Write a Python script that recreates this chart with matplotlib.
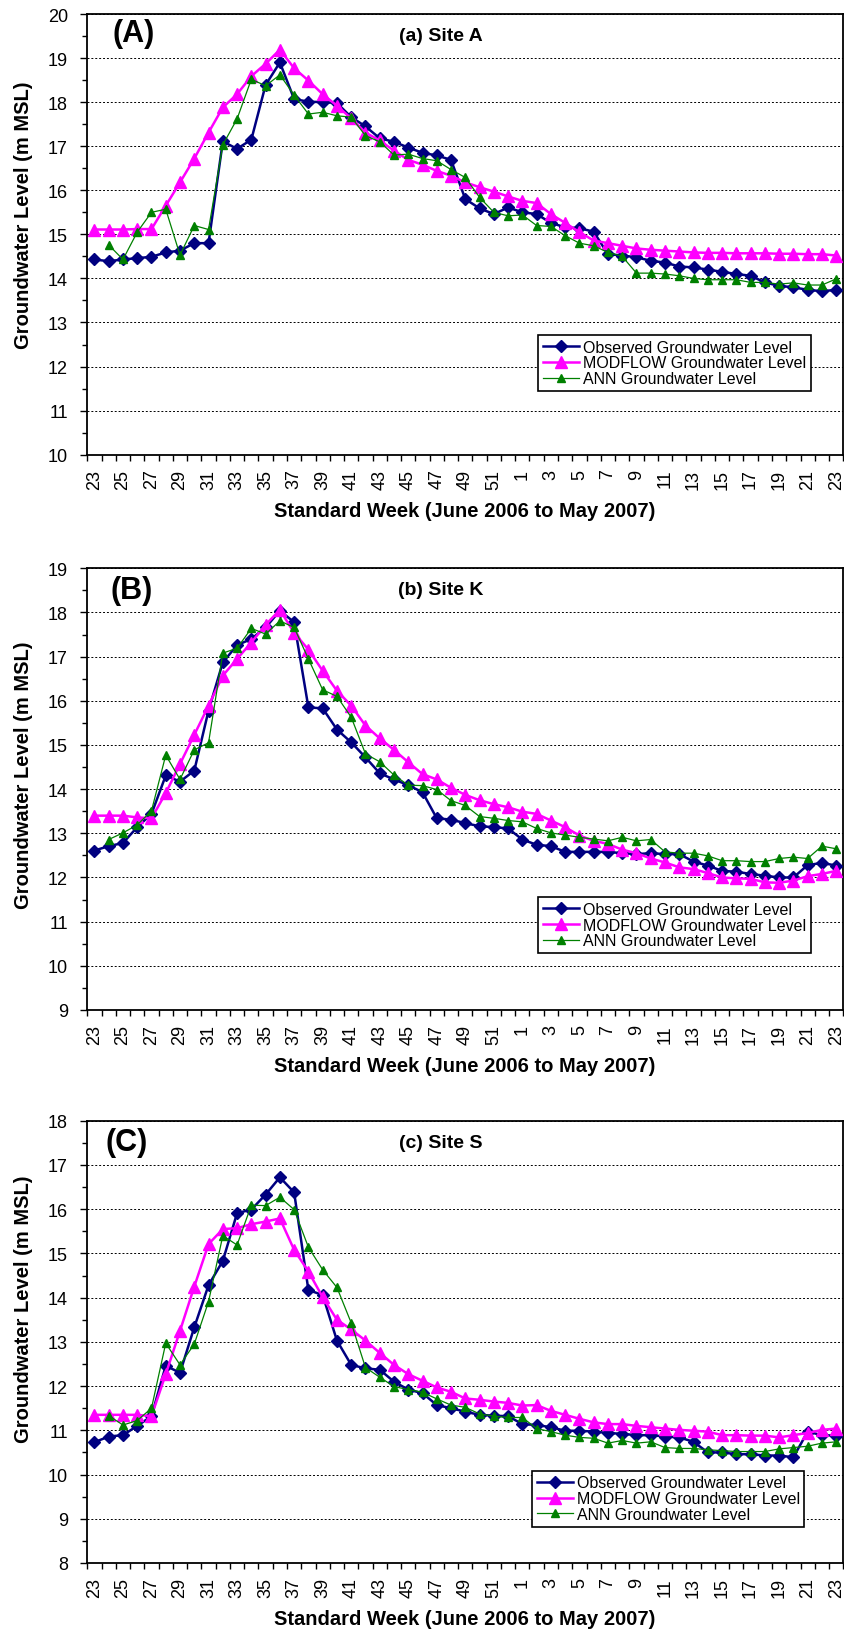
import numpy as np
import matplotlib
matplotlib.use("Agg")
import matplotlib.pyplot as plt
from matplotlib.ticker import FixedLocator, MultipleLocator

plt.rcParams['font.family'] = ['Liberation Sans', 'DejaVu Sans']

# standard weeks, June 2006 to May 2007
weeks = list(range(23, 53)) + list(range(1, 24))
nan = np.nan

# Site A
obs_a = [14.43, 14.39, 14.43, 14.46, 14.49, 14.59, 14.63, 14.80, 14.80, 17.11,
         16.94, 17.15, 18.39, 18.90, 18.07, 18.01, 18.00, 17.98, 17.66, 17.45,
         17.18, 17.10, 16.97, 16.85, 16.79, 16.69, 15.80, 15.59, 15.46, 15.61,
         15.50, 15.46, 15.26, 15.16, 15.14, 15.06, 14.55, 14.52, 14.48, 14.40,
         14.36, 14.27, 14.25, 14.20, 14.15, 14.10, 14.06, 13.91, 13.83, 13.80,
         13.74, 13.71, 13.74]
mod_a = [15.11, 15.11, 15.11, 15.12, 15.12, 15.65, 16.18, 16.72, 17.31, 17.88,
         18.18, 18.59, 18.87, 19.19, 18.77, 18.49, 18.18, 17.92, 17.63, 17.31,
         17.13, 16.90, 16.69, 16.58, 16.44, 16.33, 16.18, 16.07, 15.97, 15.86,
         15.76, 15.71, 15.46, 15.26, 15.05, 14.86, 14.80, 14.74, 14.68, 14.65,
         14.63, 14.61, 14.59, 14.58, 14.58, 14.57, 14.57, 14.57, 14.56, 14.56,
         14.55, 14.55, 14.52]
ann_a = [nan, 14.76, 14.43, 15.05, 15.50, 15.57, 14.53, 15.20, 15.11, 17.03,
         17.62, 18.52, 18.37, 18.62, 18.16, 17.73, 17.77, 17.69, 17.66, 17.24,
         17.10, 16.80, 16.82, 16.72, 16.67, 16.47, 16.29, 15.84, 15.50, 15.42,
         15.44, 15.20, 15.18, 14.97, 14.80, 14.74, 14.59, 14.50, 14.12, 14.12,
         14.10, 14.06, 14.00, 13.97, 13.97, 13.97, 13.91, 13.91, 13.87, 13.90,
         13.85, 13.85, 13.99]

# Site K
obs_b = [12.61, 12.71, 12.78, 13.14, 13.44, 14.31, 14.17, 14.42, 15.78, 16.87,
         17.26, 17.40, 17.66, 18.04, 17.78, 15.85, 15.83, 15.35, 15.06, 14.72,
         14.36, 14.22, 14.09, 13.93, 13.34, 13.31, 13.23, 13.16, 13.14, 13.11,
         12.86, 12.74, 12.71, 12.58, 12.58, 12.58, 12.58, 12.55, 12.53, 12.55,
         12.53, 12.53, 12.36, 12.27, 12.15, 12.13, 12.08, 12.04, 12.00, 12.00,
         12.28, 12.33, 12.27]
mod_b = [13.40, 13.40, 13.40, 13.36, 13.34, 13.91, 14.57, 15.23, 15.89, 16.57,
         16.95, 17.32, 17.72, 18.06, 17.54, 17.16, 16.68, 16.23, 15.89, 15.44,
         15.15, 14.89, 14.61, 14.34, 14.22, 14.03, 13.87, 13.75, 13.66, 13.59,
         13.49, 13.44, 13.29, 13.14, 12.95, 12.83, 12.76, 12.63, 12.55, 12.43,
         12.34, 12.23, 12.19, 12.10, 12.00, 11.98, 11.97, 11.89, 11.88, 11.93,
         12.03, 12.08, 12.15]
ann_b = [nan, 12.86, 13.01, 13.19, 13.51, 14.77, 14.22, 14.89, 15.05, 17.08,
         17.19, 17.64, 17.51, 17.81, 17.66, 16.95, 16.25, 16.10, 15.63, 14.80,
         14.62, 14.32, 14.09, 14.08, 13.99, 13.74, 13.63, 13.38, 13.34, 13.29,
         13.26, 13.11, 13.01, 12.96, 12.91, 12.87, 12.83, 12.91, 12.83, 12.86,
         12.58, 12.55, 12.55, 12.49, 12.38, 12.38, 12.36, 12.36, 12.43, 12.46,
         12.43, 12.71, 12.65]

# Site S
obs_c = [10.73, 10.86, 10.89, 11.10, 11.32, 12.46, 12.30, 13.33, 14.28, 14.83,
         15.91, 15.99, 16.33, 16.72, 16.38, 14.17, 14.06, 13.03, 12.48, 12.40,
         12.37, 12.10, 11.92, 11.84, 11.57, 11.50, 11.42, 11.35, 11.33, 11.32,
         11.14, 11.12, 11.07, 10.99, 10.99, 10.97, 10.94, 10.92, 10.89, 10.89,
         10.86, 10.84, 10.74, 10.50, 10.50, 10.46, 10.46, 10.43, 10.43, 10.39,
         10.97, 10.89, 10.88]
mod_c = [11.35, 11.35, 11.35, 11.35, 11.32, 12.27, 13.25, 14.25, 15.21, 15.55,
         15.57, 15.66, 15.72, 15.79, 15.08, 14.59, 14.01, 13.50, 13.28, 13.03,
         12.75, 12.48, 12.27, 12.12, 11.97, 11.87, 11.72, 11.69, 11.65, 11.62,
         11.56, 11.57, 11.44, 11.35, 11.26, 11.18, 11.14, 11.14, 11.10, 11.07,
         11.04, 11.01, 10.99, 10.97, 10.89, 10.89, 10.88, 10.88, 10.84, 10.89,
         10.94, 11.01, 11.04]
ann_c = [nan, 11.33, 11.12, 11.22, 11.50, 12.97, 12.48, 12.95, 13.91, 15.40,
         15.19, 16.09, 16.08, 16.27, 15.99, 15.14, 14.63, 14.23, 13.43, 12.42,
         12.20, 11.99, 11.92, 11.86, 11.71, 11.57, 11.52, 11.37, 11.32, 11.29,
         11.29, 11.04, 10.97, 10.89, 10.84, 10.82, 10.71, 10.77, 10.71, 10.74,
         10.61, 10.59, 10.59, 10.56, 10.54, 10.52, 10.52, 10.52, 10.58, 10.61,
         10.64, 10.71, 10.74]

panels = [
    ("(A)", "(a) Site A", obs_a, mod_a, ann_a, (10, 20)),
    ("(B)", "(b) Site K", obs_b, mod_b, ann_b, (9, 19)),
    ("(C)", "(c) Site S", obs_c, mod_c, ann_c, (8, 18)),
]

# axes boxes in figure pixels (left, top, right, bottom) -> fractions
W, H = 844, 1631
boxes = [(87.3, 15, 843.3, 455.7), (87.3, 569.3, 843.3, 1011), (87.3, 1121.7, 843.3, 1564)]
leg_anchor = [(0.596, 0.272), (0.596, 0.256), (0.588, 0.209)]
big_pos = [(0.061, 0.958), (0.059, 0.951), (0.052, 0.951)]
ylab_y = [215, 775, 1309]

fig = plt.figure(figsize=(W / 100, H / 100), dpi=100)
x = np.arange(len(weeks))

for k, (big, sub, obs, mod, ann, ylim) in enumerate(panels):
    l, t, r, b = boxes[k]
    ax = fig.add_axes([l / W, 1 - b / H, (r - l) / W, (b - t) / H])

    ax.plot(x, obs, color='#000080', lw=1.8, marker='D', ms=5.8, mec='#000080',
            label='Observed Groundwater Level', zorder=3)
    ax.plot(x, mod, color='#FF00FF', lw=1.8, marker='^', ms=8.5, mec='#FF00FF',
            label='MODFLOW Groundwater Level', zorder=4)
    ax.plot(x, ann, color='#008000', lw=0.9, marker='^', ms=6, mec='#008000',
            label='ANN Groundwater Level', zorder=5)

    ax.set_xlim(-0.5, len(weeks) - 0.5)
    ax.set_ylim(*ylim)
    ax.yaxis.set_major_locator(MultipleLocator(1))
    ax.yaxis.set_minor_locator(MultipleLocator(0.5))
    ax.grid(axis='y', which='major', color='black', linestyle=(0, (2, 2)), lw=0.7)

    # category ticks between points, labels on every second week
    ax.xaxis.set_minor_locator(FixedLocator(np.arange(-0.5, len(weeks), 1.0)))
    ax.set_xticks(x[::2])
    ax.set_xticklabels([str(w) for w in weeks[::2]], rotation=90, fontsize=13)
    ax.tick_params(axis='x', which='major', length=0, pad=10)
    ax.tick_params(axis='x', which='minor', length=4, width=1)
    ax.tick_params(axis='y', which='major', length=5, width=1, pad=9, labelsize=13)
    ax.tick_params(axis='y', which='minor', length=3.5, width=1)
    for s in ax.spines.values():
        s.set_linewidth(1.3)

    ax.text(big_pos[k][0], big_pos[k][1], big, transform=ax.transAxes,
            fontsize=22, fontweight='bold', ha='center', va='center')
    ax.text(0.468, 0.951, sub, transform=ax.transAxes,
            fontsize=14, fontweight='bold', ha='center', va='center')

    fig.text(24 / W, 1 - ylab_y[k] / H, 'Groundwater Level (m MSL)', rotation=90,
             fontsize=14.5, fontweight='bold', ha='center', va='center')
    fig.text(465 / W, 1 - (b + 55.5) / H, 'Standard Week (June 2006 to May 2007)',
             fontsize=14.5, fontweight='bold', ha='center', va='center')

    leg = ax.legend(loc='upper left', bbox_to_anchor=leg_anchor[k], fontsize=11.5,
                    frameon=True, fancybox=False, edgecolor='black', framealpha=1,
                    borderpad=0.3, labelspacing=0.05, handlelength=2.3,
                    handletextpad=0.2, borderaxespad=0)
    leg.get_frame().set_linewidth(1.2)
    leg.set_zorder(10)

fig.savefig('out.png', dpi=100)
